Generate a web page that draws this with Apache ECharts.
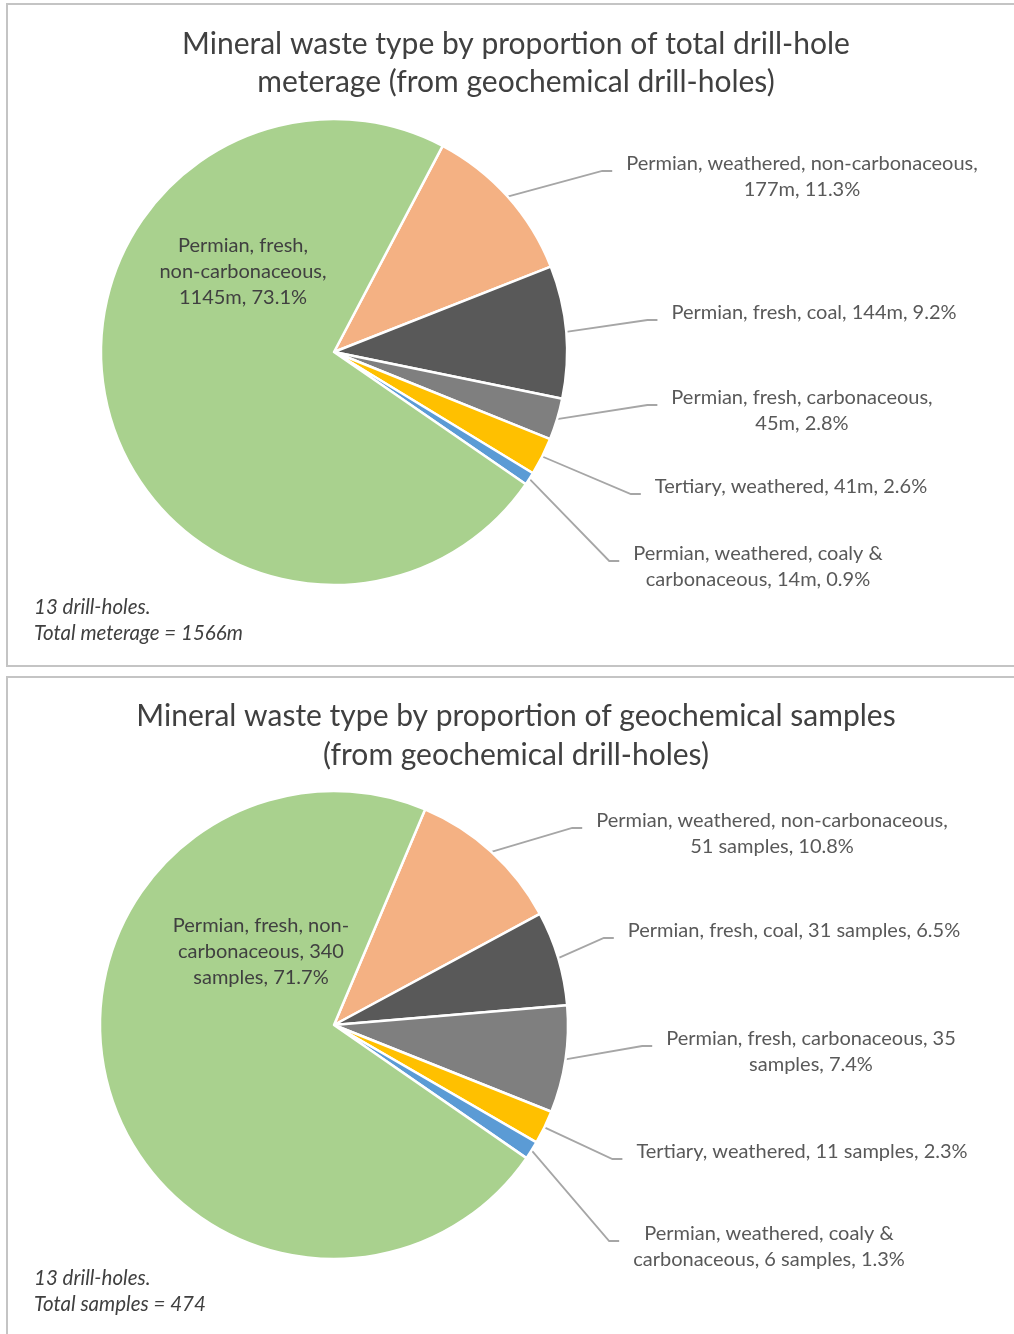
<!DOCTYPE html>
<html>
<head>
<meta charset="utf-8">
<script src="https://cdn.jsdelivr.net/npm/echarts@6/dist/echarts.min.js"></script>
<style>
html,body{margin:0;padding:0;background:#ffffff;overflow:hidden;}
#chart{width:1014px;height:1334px;}
</style>
</head>
<body>
<div id="chart"></div>
<script>
// ---------- data ----------
const categories = [
  'Permian, weathered, non-carbonaceous',
  'Permian, fresh, coal',
  'Permian, fresh, carbonaceous',
  'Tertiary, weathered',
  'Permian, weathered, coaly & carbonaceous',
  'Permian, fresh, non-carbonaceous'
];
const meterage = [177, 144, 45, 41, 14, 1145];
const meteragePct = [11.3, 9.2, 2.8, 2.6, 0.9, 73.1];
const samples = [51, 31, 35, 11, 6, 340];
const samplesPct = [10.8, 6.5, 7.4, 2.3, 1.3, 71.7];

const titleTop = 'Mineral waste type by proportion of total drill-hole\nmeterage (from geochemical drill-holes)';
const titleBottom = 'Mineral waste type by proportion of geochemical samples\n(from geochemical drill-holes)';
const noteTop = '13 drill-holes.\nTotal meterage = 1566m';
const noteBottom = '13 drill-holes.\nTotal samples = 474';

// ---------- style / layout config ----------
const sliceColors = ['#F4B183', '#595959', '#7F7F7F', '#FFC000', '#5B9BD5', '#A9D18E'];
const FONT = 'Lato, "Open Sans", sans-serif';
const LABEL_SIZE = 20;
// word-token counts after which a line break is placed
const breaksTop = [[4], [], [3], [], [4], [2, 4]];
const breaksBottom = [[4], [], [4], [], [4], [3, 5]];
// label block centres
const labelPosTop = [[802, 177], [814, 313], [802, 411], [791, 487], [758, 567], [243, 272]];
const labelPosBottom = [[772, 834], [794, 931], [811, 1052], [802, 1152], [769, 1247], [261, 952]];

function wrapLabel(text, breaks) {
  const tokens = text.match(/[^ -]+[ -]*|[ -]+/g) || [text];
  const lines = [];
  let cur = '';
  tokens.forEach((t, i) => {
    cur += t;
    if (breaks.indexOf(i + 1) >= 0) { lines.push(cur.trim()); cur = ''; }
  });
  if (cur) lines.push(cur.trim());
  return lines.join('\n');
}

function makeLayout(pos) {
  return function (p) {
    const c = pos[p.dataIndex];
    const res = { x: c[0], y: c[1], align: 'center', verticalAlign: 'middle' };
    if (p.dataIndex < 5 && p.labelLinePoints) {
      const r = p.labelRect;
      const left = c[0] - r.width / 2;
      const ly = c[1] + (r.height > 30 ? -6 : 7);
      res.labelLinePoints = [p.labelLinePoints[0], [left - 24, ly], [left - 14, ly]];
    }
    return res;
  };
}

function buildSeries(values, pcts, unit, breaks, pos, center, radius, startAngle) {
  return {
    type: 'pie',
    center: center,
    radius: radius,
    startAngle: startAngle,
    clockwise: true,
    avoidLabelOverlap: false,
    silent: true,
    emphasis: { disabled: true },
    itemStyle: { borderColor: '#ffffff', borderWidth: 2.5 },
    label: {
      show: true,
      position: 'outside',
      fontFamily: FONT,
      fontSize: LABEL_SIZE,
      lineHeight: 26,
      color: '#595959',
      formatter: function (p) {
        const txt = p.name + ', ' + values[p.dataIndex] + unit + ', ' + pcts[p.dataIndex].toFixed(1) + '%';
        return wrapLabel(txt, breaks[p.dataIndex]);
      }
    },
    labelLine: {
      show: true,
      length: 10,
      length2: 10,
      smooth: false,
      lineStyle: { color: '#A6A6A6', width: 1.8 }
    },
    labelLayout: makeLayout(pos),
    data: categories.map((n, i) => {
      const d = { name: n, value: values[i], itemStyle: { color: sliceColors[i] } };
      if (i === 5) {
        d.labelLine = { show: false };
        d.label = { color: '#404040' };
      }
      return d;
    })
  };
}

const chart = echarts.init(document.getElementById('chart'), null, { renderer: 'canvas' });

const option = {
  animation: false,
  backgroundColor: '#ffffff',
  graphic: [
    { type: 'rect', shape: { x: 7, y: 4, width: 1030, height: 662 }, style: { fill: 'none', stroke: '#C4C4C4', lineWidth: 2 }, z: 0 },
    { type: 'rect', shape: { x: 7, y: 677, width: 1030, height: 700 }, style: { fill: 'none', stroke: '#C4C4C4', lineWidth: 2 }, z: 0 },
    { type: 'text', style: { x: 516, y: 63, text: titleTop, align: 'center', verticalAlign: 'middle', fontFamily: FONT, fontSize: 30, lineHeight: 38, fill: '#404040' } },
    { type: 'text', style: { x: 516, y: 736, text: titleBottom, align: 'center', verticalAlign: 'middle', fontFamily: FONT, fontSize: 30, lineHeight: 39, fill: '#404040' } },
    { type: 'text', style: { x: 34, y: 620, text: noteTop, align: 'left', verticalAlign: 'middle', fontFamily: FONT, fontStyle: 'italic', fontSize: 20.5, lineHeight: 26, fill: '#404040' } },
    { type: 'text', style: { x: 34, y: 1291, text: noteBottom, align: 'left', verticalAlign: 'middle', fontFamily: FONT, fontStyle: 'italic', fontSize: 20.5, lineHeight: 26, fill: '#404040' } }
  ],
  series: [
    buildSeries(meterage, meteragePct, 'm', breaksTop, labelPosTop, [334, 352], 233, 62.2),
    buildSeries(samples, samplesPct, ' samples', breaksBottom, labelPosBottom, [334, 1025], 234, 67.1)
  ]
};
chart.setOption(option);
</script>
</body>
</html>
